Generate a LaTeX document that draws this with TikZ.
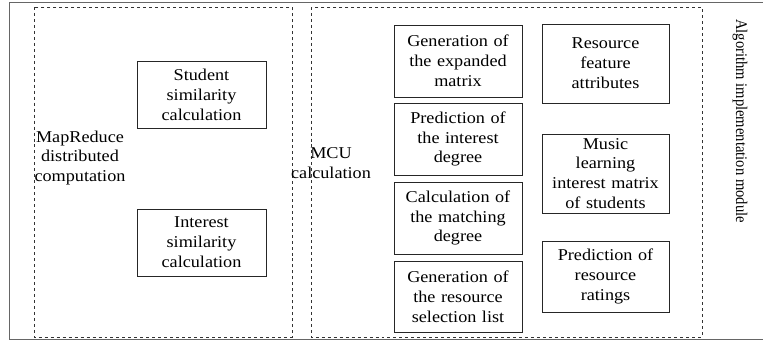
\documentclass[tikz,border=0pt]{standalone}
\usepackage{fontspec}
\setmainfont{Liberation Serif}[FakeStretch=1.1]
\newfontfamily\titlefont{Liberation Serif}[FakeStretch=0.9]
\begin{document}
\begin{tikzpicture}[x=1bp,y=-1bp,
  every node/.style={font=\fontsize{16.6}{20}\selectfont, inner sep=0pt},
  stepbox/.style={draw=black!85, line width=0.9bp, align=center, minimum width=#1, text width=#1},
  group/.style={draw=black!80, dashed, line width=0.7bp},
  label/.style={align=center}]
\useasboundingbox (0,0) rectangle (763,342);
% outer frame, open on the right
\draw[black!60, line width=0.8bp] (770,2) -- (9,2) -- (9,339) -- (770,339);
% groups
\draw[group] (34,7) rectangle (292,337);
\draw[group] (311,7) rectangle (702,337);
% MapReduce group
\node[label] (mr) at (80,158) {MapReduce\\distributed\\computation};
\node[stepbox=129bp, minimum height=67bp] (ss) at (201.5,94.5) {Student\\similarity\\calculation};
\node[stepbox=129bp, minimum height=67bp] (is) at (201.5,242.5) {Interest\\similarity\\calculation};
% MCU group
\node[label] (mcu) at (331,163) {MCU\\calculation};
\node[stepbox=128bp, minimum height=72bp] (g1) at (458,61) {Generation of\\the expanded\\matrix};
\node[stepbox=128bp, minimum height=72bp] (g2) at (458,139) {Prediction of\\the interest\\degree};
\node[stepbox=128bp, minimum height=72bp] (g3) at (458,218) {Calculation of\\the matching\\degree};
\node[stepbox=128bp, minimum height=71bp] (g4) at (458,296.5) {Generation of\\the resource\\selection list};
\node[stepbox=127bp, minimum height=79bp] (r1) at (605.5,63.5) {Resource\\feature\\attributes};
\node[stepbox=127bp, minimum height=79bp] (r2) at (605.5,173.5) {Music\\learning\\interest matrix\\of students};
\node[stepbox=127bp, minimum height=71bp] (r3) at (605.5,276.5) {Prediction of\\resource\\ratings};
% module title
\node[rotate=-90, font=\titlefont\fontsize{16.3}{20}\selectfont] (title) at (740,121) {Algorithm implementation module};
\end{tikzpicture}
\end{document}
